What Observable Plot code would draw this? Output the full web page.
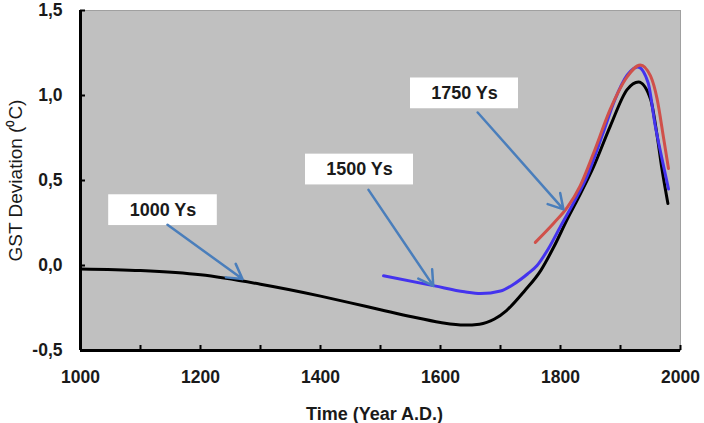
<!DOCTYPE html>
<html>
<head>
<meta charset="utf-8">
<script src="https://cdn.jsdelivr.net/npm/d3@7"></script>
<script src="https://cdn.jsdelivr.net/npm/@observablehq/plot@0.6"></script>
<style>
  html, body { margin: 0; padding: 0; background: #fff; }
  #chart svg { display: block; }
</style>
</head>
<body>
<div id="chart"></div>
<script>
// ---- Data ----
const years1000 = [1000, 1100, 1200, 1300, 1400, 1450, 1500, 1550, 1600, 1640, 1665, 1690, 1710, 1740, 1767, 1789, 1811, 1833, 1855, 1883, 1911, 1930, 1950, 1961, 1969, 1979];
const gst1000   = [-0.02, -0.03, -0.055, -0.11, -0.18, -0.22, -0.26, -0.30, -0.335, -0.35, -0.345, -0.315, -0.265, -0.15, -0.03, 0.11, 0.27, 0.42, 0.58, 0.82, 1.035, 1.08, 0.98, 0.765, 0.57, 0.365];

const years1500 = [1505, 1590, 1640, 1667, 1700, 1722, 1745, 1761, 1780, 1800, 1822, 1845, 1870, 1890, 1911, 1929, 1946, 1958, 1969, 1980];
const gst1500   = [-0.06, -0.12, -0.155, -0.165, -0.15, -0.11, -0.05, 0.0, 0.10, 0.23, 0.37, 0.53, 0.77, 0.97, 1.12, 1.168, 1.075, 0.82, 0.63, 0.45];

const years1750 = [1758, 1789, 1811, 1833, 1855, 1883, 1911, 1933, 1950, 1961, 1972, 1980];
const gst1750   = [0.136, 0.25, 0.34, 0.47, 0.66, 0.92, 1.11, 1.18, 1.115, 0.98, 0.745, 0.57];

const seriesNames  = ["1000 Ys", "1500 Ys", "1750 Ys"];
const seriesColors = ["#000000", "#4433ee", "#d0504a"];

const xTickLabels = [1000, 1200, 1400, 1600, 1800, 2000];
const xMinorTicks = [1000, 1100, 1200, 1300, 1400, 1500, 1600, 1700, 1800, 1900, 2000];
const yTicks = [-0.5, 0, 0.5, 1.0, 1.5];

// Annotation callouts (data units)
const annLabels = ["1000 Ys", "1500 Ys", "1750 Ys"];
const annBoxX1  = [1047, 1375, 1550];
const annBoxX2  = [1228, 1555, 1730];
const annBoxY1  = [0.235, 0.474, 0.922];
const annBoxY2  = [0.416, 0.655, 1.103];
const annFromX  = [1145, 1480, 1662];
const annFromY  = [0.24, 0.445, 0.90];
const annToX    = [1270, 1588, 1805];
const annToY    = [-0.08, -0.12, 0.33];

// ---- Build tables ----
const lineData = [
  ...years1000.map((y, i) => ({year: y, value: gst1000[i], s: seriesNames[0]})),
  ...years1500.map((y, i) => ({year: y, value: gst1500[i], s: seriesNames[1]})),
  ...years1750.map((y, i) => ({year: y, value: gst1750[i], s: seriesNames[2]}))
];
const ann = annLabels.map((label, i) => ({
  label,
  x1: annBoxX1[i], x2: annBoxX2[i], y1: annBoxY1[i], y2: annBoxY2[i],
  fx: annFromX[i], fy: annFromY[i], tx: annToX[i], ty: annToY[i]
}));

const fmt = d => d.toFixed(1).replace(".", ",");

const chart = Plot.plot({
  width: 704,
  height: 423,
  marginLeft: 80,
  marginRight: 24,
  marginTop: 10,
  marginBottom: 73,
  style: {
    fontFamily: "'Liberation Sans', Arial, sans-serif",
    fontSize: "17px",
    fontWeight: "bold",
    color: "#1a1a1a",
    background: "#ffffff"
  },
  x: {domain: [1000, 2000]},
  y: {domain: [-0.5, 1.5]},
  color: {domain: seriesNames, range: seriesColors},
  marks: [
    Plot.frame({fill: "#c0c0c0", stroke: "#a0a0a0", strokeWidth: 1}),
    // tick marks (inward)
    Plot.axisX(xMinorTicks, {tickSize: 5, dy: -5, tickFormat: () => "", label: null, strokeWidth: 2, stroke: "#000"}),
    Plot.axisY(yTicks, {tickSize: 5, dx: 5, tickFormat: () => "", label: null, strokeWidth: 2, stroke: "#000"}),
    // tick labels
    Plot.axisX(xTickLabels, {tickSize: 0, tickPadding: 20, tickFormat: d => String(d), label: null, fontSize: 17.5}),
    Plot.axisY(yTicks, {tickSize: 0, tickPadding: 18, tickFormat: fmt, label: null, fontSize: 17.5}),
    // axis lines
    Plot.ruleX([1000], {stroke: "#000", strokeWidth: 3}),
    Plot.ruleY([-0.5], {stroke: "#000", strokeWidth: 3}),
    // series
    Plot.line(lineData, {x: "year", y: "value", z: "s", stroke: "s", strokeWidth: 3, curve: "monotone-x"}),
    // callouts
    Plot.rect(ann, {x1: "x1", x2: "x2", y1: "y1", y2: "y2", fill: "#ffffff"}),
    Plot.text(ann, {x: d => (d.x1 + d.x2) / 2, y: d => (d.y1 + d.y2) / 2, text: "label", fontSize: 18, fontWeight: "bold", fill: "#1a1a1a"}),
    Plot.arrow(ann, {x1: "fx", y1: "fy", x2: "tx", y2: "ty", stroke: "#4a7ebb", strokeWidth: 2.5, headLength: 10}),
    // axis titles
    Plot.text(["Time (Year A.D.)"], {frameAnchor: "bottom", dy: 69, dx: -6, fontSize: 18, fontWeight: "bold", fill: "#1a1a1a"}),
    Plot.text(["GST Deviation (\u2070C)"], {frameAnchor: "left", textAnchor: "middle", dx: -65, rotate: -90, fontSize: 19, fontWeight: "normal", fill: "#1a1a1a"})
  ]
});
document.getElementById("chart").appendChild(chart);
</script>
</body>
</html>
